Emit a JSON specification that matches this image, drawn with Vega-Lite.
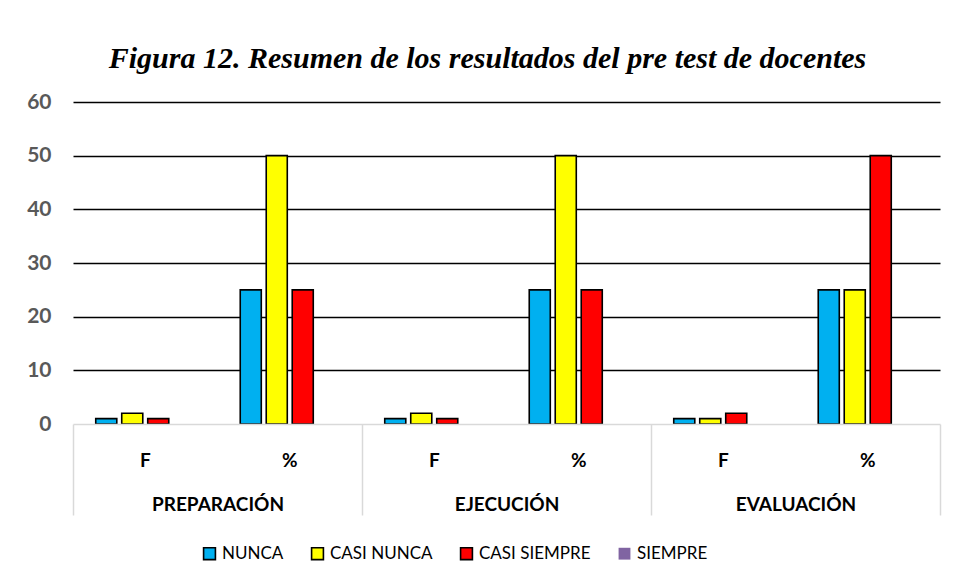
{
  "$schema": "https://vega.github.io/schema/vega-lite/v6.json",
  "width": 867,
  "height": 322,
  "autosize": {"type": "none"},
  "padding": {"left": 73, "top": 102, "right": 17, "bottom": 157},
  "background": "white",
  "title": {
    "text": "Figura 12. Resumen de los resultados del pre test de docentes",
    "font": "Liberation Serif",
    "fontSize": 30,
    "fontStyle": "italic",
    "fontWeight": "bold",
    "color": "black",
    "anchor": "middle",
    "frame": "group",
    "dx": -19,
    "baseline": "alphabetic",
    "offset": -7
  },
  "data": {
    "values": [
      {"group": "PREPARACIÓN", "cat": "PREPARACIÓN|F", "series": "NUNCA", "value": 1},
      {"group": "PREPARACIÓN", "cat": "PREPARACIÓN|F", "series": "CASI NUNCA", "value": 2},
      {"group": "PREPARACIÓN", "cat": "PREPARACIÓN|F", "series": "CASI SIEMPRE", "value": 1},
      {"group": "PREPARACIÓN", "cat": "PREPARACIÓN|F", "series": "SIEMPRE", "value": 0},
      {"group": "PREPARACIÓN", "cat": "PREPARACIÓN|%", "series": "NUNCA", "value": 25},
      {"group": "PREPARACIÓN", "cat": "PREPARACIÓN|%", "series": "CASI NUNCA", "value": 50},
      {"group": "PREPARACIÓN", "cat": "PREPARACIÓN|%", "series": "CASI SIEMPRE", "value": 25},
      {"group": "PREPARACIÓN", "cat": "PREPARACIÓN|%", "series": "SIEMPRE", "value": 0},
      {"group": "EJECUCIÓN", "cat": "EJECUCIÓN|F", "series": "NUNCA", "value": 1},
      {"group": "EJECUCIÓN", "cat": "EJECUCIÓN|F", "series": "CASI NUNCA", "value": 2},
      {"group": "EJECUCIÓN", "cat": "EJECUCIÓN|F", "series": "CASI SIEMPRE", "value": 1},
      {"group": "EJECUCIÓN", "cat": "EJECUCIÓN|F", "series": "SIEMPRE", "value": 0},
      {"group": "EJECUCIÓN", "cat": "EJECUCIÓN|%", "series": "NUNCA", "value": 25},
      {"group": "EJECUCIÓN", "cat": "EJECUCIÓN|%", "series": "CASI NUNCA", "value": 50},
      {"group": "EJECUCIÓN", "cat": "EJECUCIÓN|%", "series": "CASI SIEMPRE", "value": 25},
      {"group": "EJECUCIÓN", "cat": "EJECUCIÓN|%", "series": "SIEMPRE", "value": 0},
      {"group": "EVALUACIÓN", "cat": "EVALUACIÓN|F", "series": "NUNCA", "value": 1},
      {"group": "EVALUACIÓN", "cat": "EVALUACIÓN|F", "series": "CASI NUNCA", "value": 1},
      {"group": "EVALUACIÓN", "cat": "EVALUACIÓN|F", "series": "CASI SIEMPRE", "value": 2},
      {"group": "EVALUACIÓN", "cat": "EVALUACIÓN|F", "series": "SIEMPRE", "value": 0},
      {"group": "EVALUACIÓN", "cat": "EVALUACIÓN|%", "series": "NUNCA", "value": 25},
      {"group": "EVALUACIÓN", "cat": "EVALUACIÓN|%", "series": "CASI NUNCA", "value": 25},
      {"group": "EVALUACIÓN", "cat": "EVALUACIÓN|%", "series": "CASI SIEMPRE", "value": 50},
      {"group": "EVALUACIÓN", "cat": "EVALUACIÓN|%", "series": "SIEMPRE", "value": 0}
    ]
  },
  "layer": [
    {
      "mark": {"type": "bar", "strokeWidth": 1.6},
      "encoding": {
        "x": {
          "field": "cat",
          "type": "nominal",
          "sort": null,
          "scale": {"paddingInner": 0, "paddingOuter": 0},
          "axis": {
            "title": null,
            "labelAngle": 0,
            "labelExpr": "split(datum.label, '|')[1]",
            "ticks": false,
            "domainColor": "#D9D9D9",
            "domainWidth": 1.5,
            "labelFont": "Lato",
            "labelFontSize": 19,
            "labelFontWeight": "bold",
            "labelColor": "black",
            "labelPadding": 27,
            "zindex": 1
          }
        },
        "xOffset": {
          "field": "series",
          "type": "nominal",
          "sort": ["NUNCA", "CASI NUNCA", "CASI SIEMPRE", "SIEMPRE"],
          "scale": {"paddingInner": 0.19, "paddingOuter": 0.875}
        },
        "y": {
          "field": "value",
          "type": "quantitative",
          "scale": {"domain": [0, 60]},
          "axis": {
            "title": null,
            "values": [0, 10, 20, 30, 40, 50, 60],
            "domain": false,
            "ticks": false,
            "labelFont": "Lato",
            "labelFontSize": 21,
            "labelFontWeight": "bold",
            "labelColor": "#595959",
            "labelPadding": 22,
            "gridColor": {"condition": {"test": "datum.value === 0", "value": "transparent"}, "value": "black"},
            "gridWidth": 1.4
          }
        },
        "fill": {
          "field": "series",
          "type": "nominal",
          "sort": ["NUNCA", "CASI NUNCA", "CASI SIEMPRE", "SIEMPRE"],
          "scale": {
            "domain": ["NUNCA", "CASI NUNCA", "CASI SIEMPRE", "SIEMPRE"],
            "range": ["#00B0F0", "#FFFF00", "#FF0000", "#8064A2"]
          },
          "legend": {
            "title": null,
            "orient": "none",
            "direction": "horizontal",
            "legendX": 128,
            "legendY": 443,
            "symbolType": "square",
            "symbolSize": 140,
            "symbolStrokeWidth": 1.6,
            "labelFont": "Lato",
            "labelFontSize": 17,
            "labelColor": "black",
            "labelOffset": 4,
            "columnPadding": 24
          }
        },
        "stroke": {
          "field": "series",
          "type": "nominal",
          "sort": ["NUNCA", "CASI NUNCA", "CASI SIEMPRE", "SIEMPRE"],
          "scale": {
            "domain": ["NUNCA", "CASI NUNCA", "CASI SIEMPRE", "SIEMPRE"],
            "range": ["black", "black", "black", "transparent"]
          }
        }
      }
    },
    {
      "mark": {"type": "text", "opacity": 0},
      "encoding": {
        "x": {
          "field": "group",
          "type": "nominal",
          "sort": null,
          "scale": {"paddingInner": 0, "paddingOuter": 0},
          "axis": {
            "title": null,
            "orient": "bottom",
            "labelAngle": 0,
            "domain": false,
            "ticks": true,
            "tickBand": "extent",
            "tickSize": 91,
            "tickColor": "#D9D9D9",
            "tickWidth": 1.5,
            "labelFont": "Lato",
            "labelFontSize": 19,
            "labelFontWeight": "bold",
            "labelColor": "black",
            "labelPadding": -20
          }
        },
        "text": {"value": ""}
      }
    }
  ],
  "resolve": {"scale": {"x": "independent"}, "axis": {"x": "independent"}},
  "config": {"view": {"stroke": null}}
}
